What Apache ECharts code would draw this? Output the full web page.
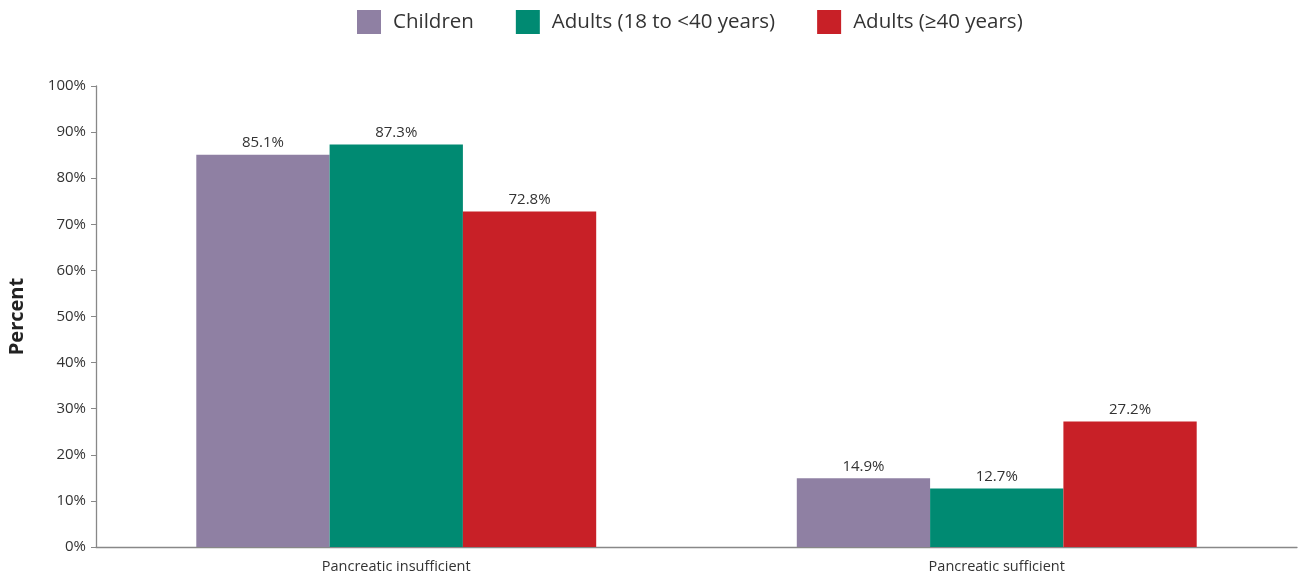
<!DOCTYPE html>
<html><head><meta charset="utf-8">
<script src="https://cdn.jsdelivr.net/npm/echarts@6/dist/echarts.min.js"></script>
<style>html,body{margin:0;padding:0;background:#fff}#c{width:1301px;height:582px}</style>
</head><body><div id="c"></div>
<script>
const categories = ['Pancreatic insufficient', 'Pancreatic sufficient'];
const children = [85.1, 14.9];
const adultsYoung = [87.3, 12.7];
const adultsOld = [72.8, 27.2];
const seriesNames = ['Children', 'Adults (18 to <40 years)', 'Adults (≥40 years)'];
const colors = ['#8f80a3', '#008a72', '#c82027'];

const chart = echarts.init(document.getElementById('c'));
const font = "'Open Sans', sans-serif";
const mk = (name, data, color) => ({
  name, type: 'bar', data, barWidth: 133.3, barGap: '0%',
  itemStyle: { color },
  label: { show: true, position: 'top', distance: 4, color: '#333', fontFamily: font, fontSize: 15,
           formatter: p => p.value.toFixed(1) + '%' }
});
chart.setOption({
  animation: false,
  color: colors,
  legend: {
    top: 5, left: 352, padding: 5, itemWidth: 24, itemHeight: 24, itemGap: 42,
    icon: 'rect',
    textStyle: { fontFamily: font, fontSize: 20.5, color: '#333', padding: [0, 0, 0, 7] },
    data: seriesNames
  },
  grid: { left: 96, right: 4, top: 86, bottom: 35, containLabel: false, outerBoundsMode: 'none' },
  xAxis: {
    type: 'category', data: categories,
    axisLine: { lineStyle: { color: '#888', width: 1.3 } },
    axisTick: { show: false },
    axisLabel: { fontFamily: font, fontSize: 14.5, color: '#333', margin: 12 }
  },
  yAxis: {
    type: 'value', min: 0, max: 100, interval: 10,
    name: 'Percent', nameLocation: 'middle', nameGap: 69,
    nameTextStyle: { fontFamily: font, fontSize: 20, fontWeight: 'bold', color: '#222' },
    axisLine: { show: true, lineStyle: { color: '#888', width: 1.3 } },
    axisTick: { show: true, length: 5, lineStyle: { color: '#888' } },
    splitLine: { show: false },
    axisLabel: { fontFamily: font, fontSize: 15, color: '#333', margin: 10, formatter: '{value}%' }
  },
  series: [mk(seriesNames[0], children, colors[0]), mk(seriesNames[1], adultsYoung, colors[1]), mk(seriesNames[2], adultsOld, colors[2])]
});
</script></body></html>
